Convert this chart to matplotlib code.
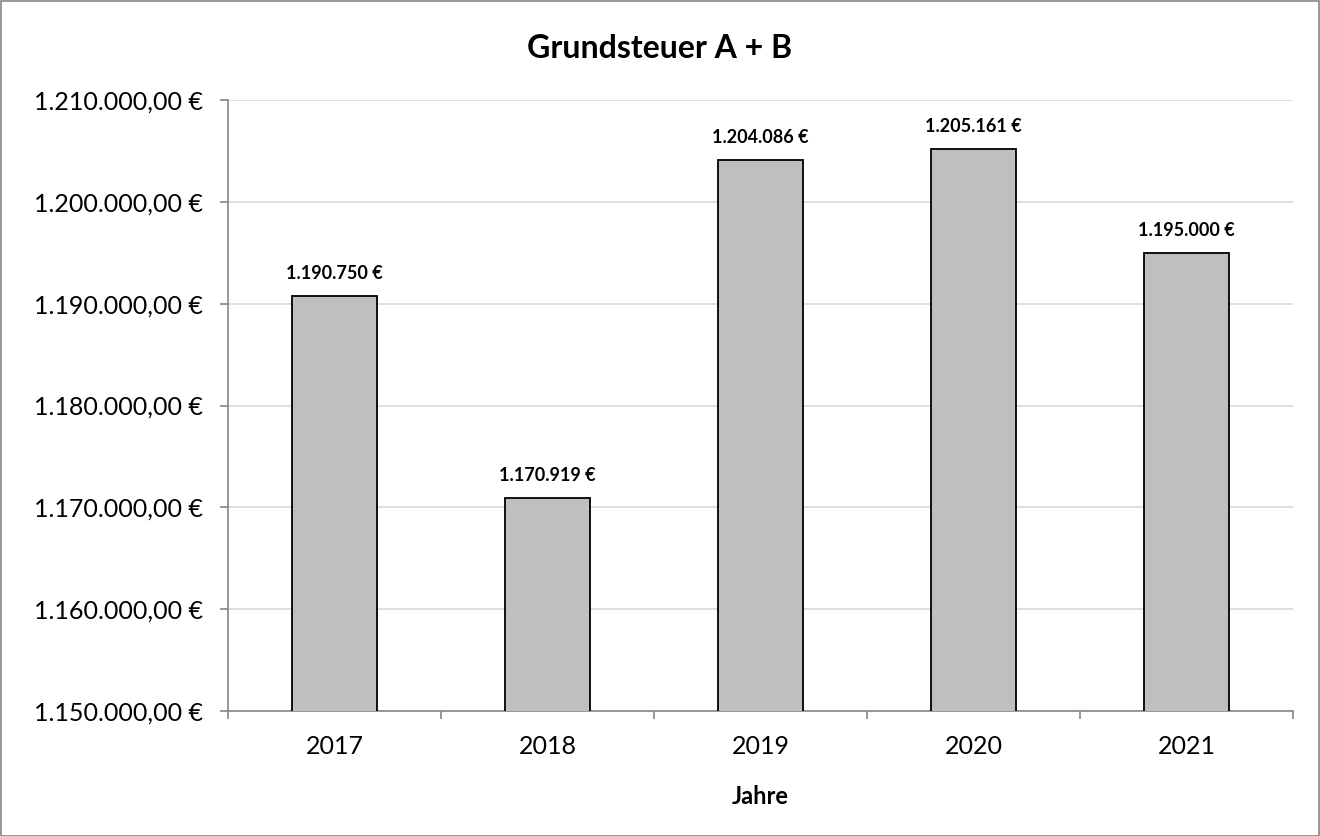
import numpy as np
import matplotlib
matplotlib.use("Agg")
import matplotlib.pyplot as plt
from matplotlib.ticker import FuncFormatter, FixedLocator

years = ["2017", "2018", "2019", "2020", "2021"]
values = [1190750, 1170919, 1204086, 1205161, 1195000]
y_min, y_max, y_step = 1150000, 1210000, 10000

plt.rcParams['font.family'] = ['Lato', 'DejaVu Sans']


def de_num(v, decimals=0):
    s = f"{v:,.{decimals}f}"
    return s.replace(",", "X").replace(".", ",").replace("X", ".")


fig = plt.figure(figsize=(13.2, 8.36), dpi=100)
ax = fig.add_axes([228 / 1320, 1 - 711 / 836, (1293 - 228) / 1320, (711 - 100) / 836])

x = np.arange(len(years))
ax.bar(x, values, width=0.4, color="#BFBFBF", edgecolor="black", linewidth=1.3, zorder=3)

for xi, v in zip(x, values):
    ax.annotate(de_num(v) + " €", (xi, v), xytext=(0, 10), textcoords="offset points",
                ha="center", va="bottom", fontsize=13, fontweight="bold")

ax.set_xlim(-0.5, len(years) - 0.5)
ax.set_ylim(y_min, y_max)
ax.set_yticks(np.arange(y_min, y_max + 1, y_step))
ax.yaxis.set_major_formatter(FuncFormatter(lambda v, p: de_num(v, 2) + " €"))
ax.set_xticks(x)
ax.set_xticklabels(years)
ax.xaxis.set_minor_locator(FixedLocator(np.arange(-0.5, len(years), 1)))
ax.tick_params(axis="x", which="major", length=0, labelsize=18, pad=17)
ax.tick_params(axis="x", which="minor", length=6, color="#868686", width=1.2)
ax.tick_params(axis="y", length=6, color="#868686", width=1.2, labelsize=18, pad=12)

ax.grid(axis="y", color="#D9D9D9", linewidth=1.2, zorder=0)
for s in ["top", "right"]:
    ax.spines[s].set_visible(False)
for s in ["left", "bottom"]:
    ax.spines[s].set_color("#868686")
    ax.spines[s].set_linewidth(1.2)

ax.set_xlabel("Jahre", fontsize=17, fontweight="bold", labelpad=20)
fig.text(0.5, 1 - 49 / 836, "Grundsteuer A + B", ha="center", va="center",
         fontsize=23, fontweight="bold")

fig.patches.append(plt.Rectangle((0.5 / 1320, 0.5 / 836), 1 - 1.5 / 1320, 1 - 1.5 / 836,
                                 transform=fig.transFigure, fill=False,
                                 edgecolor="#868686", linewidth=1.2))

fig.savefig("out.png", dpi=100)
